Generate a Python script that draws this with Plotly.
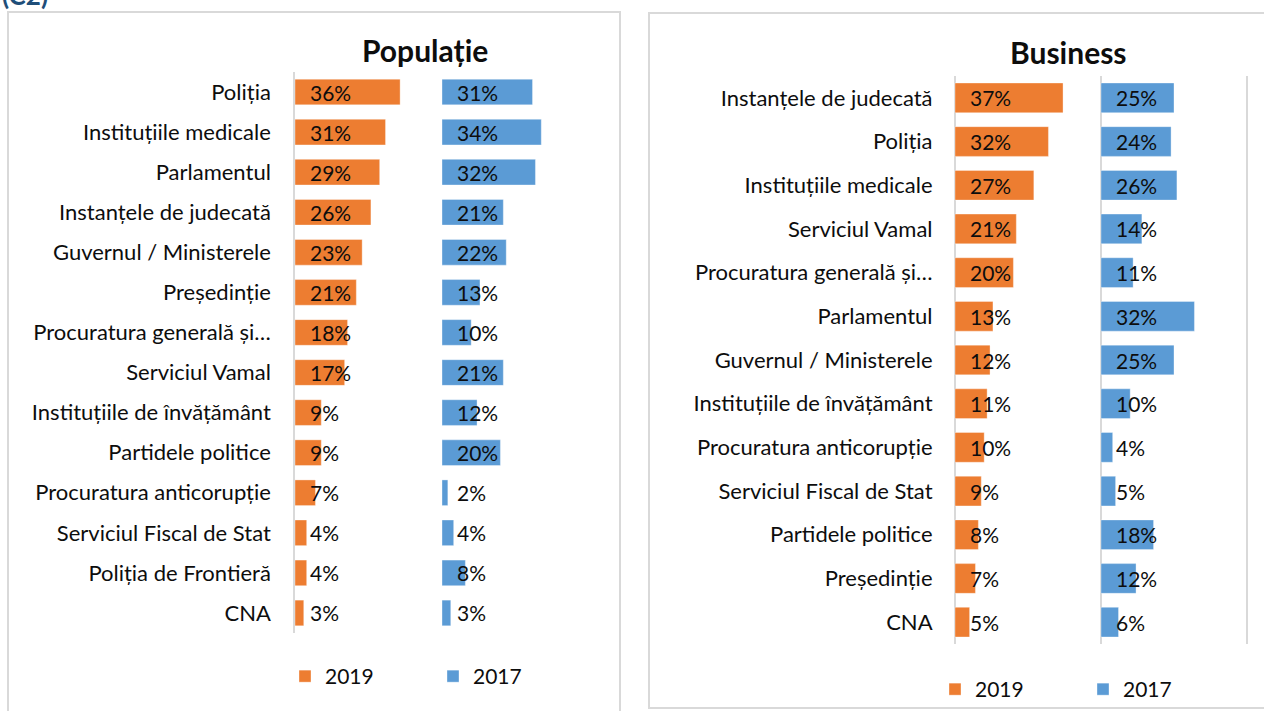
import plotly.graph_objects as go

# ---------------- data ----------------
pop_categories = [
    "Poliția", "Instituțiile medicale", "Parlamentul", "Instanțele de judecată",
    "Guvernul / Ministerele", "Președinție", "Procuratura generală și…",
    "Serviciul Vamal", "Instituțiile de învățământ", "Partidele politice",
    "Procuratura anticorupție", "Serviciul Fiscal de Stat", "Poliția de Frontieră", "CNA",
]
pop_2019 = [36, 31, 29, 26, 23, 21, 18, 17, 9, 9, 7, 4, 4, 3]
pop_2017 = [31, 34, 32, 21, 22, 13, 10, 21, 12, 20, 2, 4, 8, 3]

bus_categories = [
    "Instanțele de judecată", "Poliția", "Instituțiile medicale", "Serviciul Vamal",
    "Procuratura generală și…", "Parlamentul", "Guvernul / Ministerele",
    "Instituțiile de învățământ", "Procuratura anticorupție", "Serviciul Fiscal de Stat",
    "Partidele politice", "Președinție", "CNA",
]
bus_2019 = [37, 32, 27, 21, 20, 13, 12, 11, 10, 9, 8, 7, 5]
bus_2017 = [25, 24, 26, 14, 11, 32, 25, 10, 4, 5, 18, 12, 6]

series_names = ["2019", "2017"]
panel_titles = ["Populație", "Business"]
corner_label = "(C2)"

# ---------------- style ----------------
W, H = 1264, 711
ORANGE = "#ED7D31"
BLUE = "#5B9BD5"
GRID = "#D9D9D9"
TXT = "#0D0D0D"
FONT = "Lato"
PX_PER_UNIT = 2.92  # pixels per percentage point
PAD = 0.5           # small range padding so edge gridlines are kept

def px(x):
    return x / W

def py(y):
    return 1 - y / H

fig = go.Figure()

panels = [
    dict(cats=pop_categories, v19=pop_2019, v17=pop_2017, xa=("x", "x2"), ya="y",
         legend="legend", width=0.64),
    dict(cats=bus_categories, v19=bus_2019, v17=bus_2017, xa=("x3", "x4"), ya="y2",
         legend="legend2", width=0.68),
]

for p in panels:
    for vals, name, color, xa in zip((p["v19"], p["v17"]), series_names,
                                      (ORANGE, BLUE), p["xa"]):
        fig.add_trace(go.Bar(
            y=p["cats"], x=vals, orientation="h", name=name,
            marker=dict(color=color, line=dict(color="rgba(255,255,255,0.35)", width=1)),
            width=p["width"], xaxis=xa, yaxis=p["ya"], legend=p["legend"],
            showlegend=True, hoverinfo="x+y",
        ))
        for c, v in zip(p["cats"], vals):
            fig.add_annotation(
                x=0, y=c, xref=xa, yref=p["ya"], text=f"{v}%", showarrow=False,
                xanchor="left", yanchor="middle", xshift=13,
                font=dict(size=21, color=TXT, family=FONT),
            )

axis_hidden = dict(showticklabels=False, ticks="", zeroline=False,
                   showline=False, fixedrange=True)

def padded_domain(x0_pix):
    pad_pix = PAD * PX_PER_UNIT
    return [px(x0_pix - pad_pix), px(x0_pix + 50 * PX_PER_UNIT + pad_pix)]

fig.update_layout(
    width=W, height=H,
    margin=dict(l=0, r=0, t=0, b=0),
    paper_bgcolor="white", plot_bgcolor="rgba(0,0,0,0)",
    font=dict(family=FONT, color=TXT),
    barmode="overlay",
    xaxis=dict(domain=[px(295), px(295 + 50 * PX_PER_UNIT)], range=[0, 50], anchor="y",
               showgrid=False, **axis_hidden),
    xaxis2=dict(domain=[px(442), px(442 + 50 * PX_PER_UNIT)], range=[0, 50], anchor="y",
                showgrid=False, **axis_hidden),
    xaxis3=dict(domain=padded_domain(955), range=[-PAD, 50 + PAD], anchor="y2",
                showgrid=True, tick0=0, dtick=50, gridcolor=GRID, gridwidth=1.5, **axis_hidden),
    xaxis4=dict(domain=padded_domain(1101), range=[-PAD, 50 + PAD], anchor="y2",
                showgrid=True, tick0=0, dtick=50, gridcolor=GRID, gridwidth=1.5, **axis_hidden),
    yaxis=dict(domain=[py(633), py(72)], anchor="x", type="category",
               categoryorder="array", categoryarray=pop_categories, autorange="reversed",
               showline=True, linecolor=GRID, linewidth=1.5, ticks="", showgrid=False,
               ticklabelstandoff=18, tickfont=dict(size=22, color=TXT, family=FONT)),
    yaxis2=dict(domain=[py(644), py(76)], anchor="x3", type="category",
                categoryorder="array", categoryarray=bus_categories, autorange="reversed",
                showline=False, ticks="", showgrid=False,
                ticklabelstandoff=20, tickfont=dict(size=22, color=TXT, family=FONT)),
    legend=dict(orientation="h", x=px(285), y=py(656), xanchor="left", yanchor="top",
                entrywidth=103, entrywidthmode="pixels",
                font=dict(size=21, color=TXT, family=FONT), bgcolor="rgba(0,0,0,0)"),
    legend2=dict(orientation="h", x=px(935), y=py(669), xanchor="left", yanchor="top",
                 entrywidth=103, entrywidthmode="pixels",
                 font=dict(size=21, color=TXT, family=FONT), bgcolor="rgba(0,0,0,0)"),
    shapes=[
        dict(type="rect", xref="paper", yref="paper", x0=px(8), x1=px(620),
             y0=py(720), y1=py(12), line=dict(color=GRID, width=2), layer="below"),
        dict(type="rect", xref="paper", yref="paper", x0=px(649), x1=px(1275),
             y0=py(708), y1=py(13), line=dict(color=GRID, width=2), layer="below"),
    ],
)

fig.add_annotation(x=px(425), y=py(50), xref="paper", yref="paper",
                   text=f"<b>{panel_titles[0]}</b>", showarrow=False,
                   xanchor="center", yanchor="middle",
                   font=dict(size=30, color=TXT, family=FONT))
fig.add_annotation(x=px(1068), y=py(52), xref="paper", yref="paper",
                   text=f"<b>{panel_titles[1]}</b>", showarrow=False,
                   xanchor="center", yanchor="middle",
                   font=dict(size=30, color=TXT, family=FONT))
fig.add_annotation(x=0, y=1, xref="paper", yref="paper", text=f"<b>{corner_label}</b>",
                   showarrow=False, xanchor="left", yanchor="bottom", xshift=0, yshift=-13,
                   font=dict(size=26, color="#1F4E79", family=FONT))

fig.write_html("out.html", config={"displayModeBar": False},
               post_script="document.body.style.margin='0';")
